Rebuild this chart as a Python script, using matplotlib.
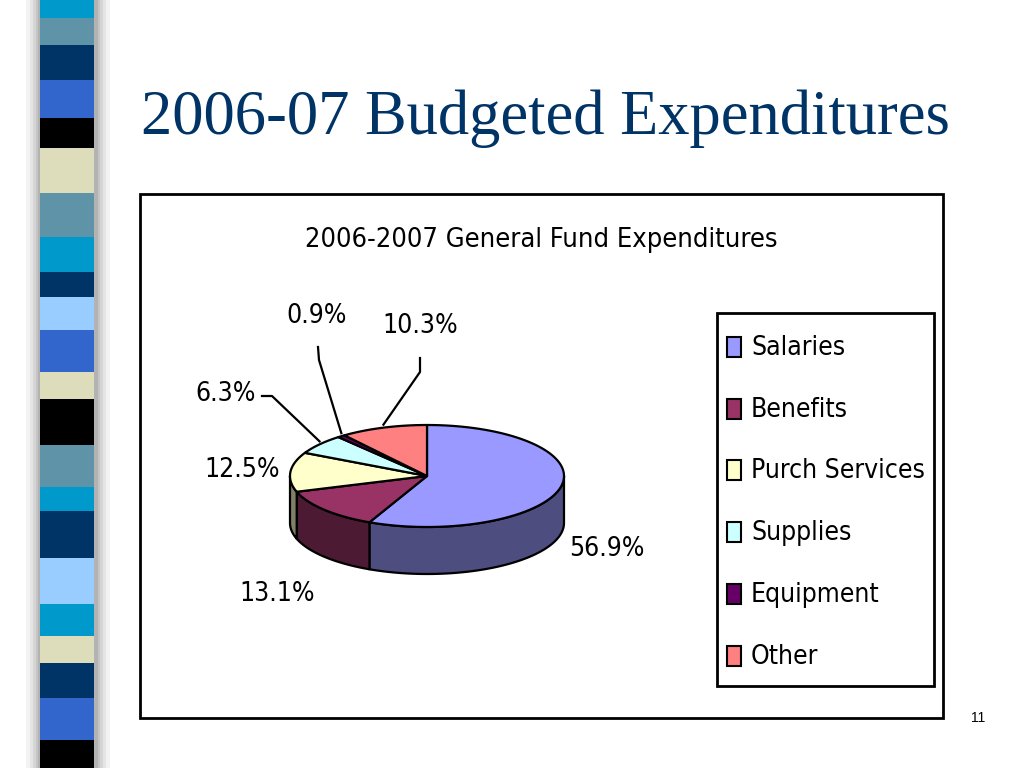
import numpy as np
import matplotlib
matplotlib.use("Agg")
import matplotlib.pyplot as plt
from matplotlib.patches import Polygon, Rectangle
from matplotlib.colors import to_rgb

# ---------------- data ----------------
categories = ["Salaries", "Benefits", "Purch Services", "Supplies", "Equipment", "Other"]
shares = [56.9, 13.1, 12.5, 6.3, 0.9, 10.3]
colors = ["#9999FF", "#993366", "#FFFFCC", "#CCFFFF", "#660066", "#FF8080"]
slide_title = "2006-07 Budgeted Expenditures"
chart_title = "2006-2007 General Fund Expenditures"
page_number = "11"

# decorative stripe (top to bottom): colour, height in px
stripe_colors = ["#0099CC", "#5F93A8", "#003366", "#3366CC", "#000000", "#DDDDBB",
                 "#5F93A8", "#0099CC", "#003366", "#99CCFF", "#3366CC", "#DDDDBB",
                 "#000000", "#5F93A8", "#0099CC", "#003366", "#99CCFF", "#0099CC",
                 "#DDDDBB", "#003366", "#3366CC", "#000000"]
stripe_heights = [18, 27, 35, 38, 30, 45, 44, 35, 25, 33, 42, 27,
                  46, 42, 24, 47, 46, 32, 27, 35, 42, 28]

NARROW = dict(family=["DejaVu Sans"], stretch="condensed")
SERIF = ["Liberation Serif", "DejaVu Serif"]

fig = plt.figure(figsize=(10.24, 7.68), dpi=100)
ax = fig.add_axes([0, 0, 1, 1])
ax.set_xlim(0, 1024)
ax.set_ylim(768, 0)
ax.axis("off")

# ---------------- left stripe with shadow ----------------
for w, al in [(84, 0.08), (76, 0.10), (70, 0.13), (64, 0.16), (60, 0.2)]:
    ax.add_patch(Rectangle((67 - w / 2 + 1, 0), w, 768, facecolor="#707070",
                           edgecolor="none", alpha=al, zorder=1))
y0 = 0
for c, h in zip(stripe_colors, stripe_heights):
    ax.add_patch(Rectangle((40, y0), 54, h, facecolor=c, edgecolor="none", zorder=2))
    y0 += h

# ---------------- titles ----------------
ax.text(545, 119, slide_title, fontsize=45, family=SERIF, color="#003366",
        ha="center", va="center", zorder=5)
ax.text(541, 240, chart_title, fontsize=19.5, **NARROW, color="black",
        ha="center", va="center", zorder=5)
ax.text(978, 718, page_number, fontsize=10, family=["Liberation Sans", "DejaVu Sans"],
        ha="center", va="center")

# chart frame
ax.add_patch(Rectangle((140, 194), 803, 524, facecolor="white", edgecolor="black",
                       linewidth=2, zorder=3))

# ---------------- 3-D pie ----------------
cx, cy, a, b, depth = 427, 476, 137, 51, 47


def pt(theta_deg, dy=0.0):
    t = np.radians(theta_deg)
    return cx + a * np.sin(t), cy - b * np.cos(t) + dy


cum = np.concatenate([[0], np.cumsum(shares)])
angles = cum / cum[-1] * 360.0

# side walls (front half: 90..270 deg)
for i in range(len(shares)):
    s, e = max(angles[i], 90), min(angles[i + 1], 270)
    if e <= s:
        continue
    th = np.linspace(s, e, 80)
    top = [pt(t) for t in th]
    bot = [pt(t, depth) for t in th[::-1]]
    side = tuple(np.array(to_rgb(colors[i])) * 0.5)
    ax.add_patch(Polygon(top + bot, closed=True, facecolor=side, edgecolor="black",
                         linewidth=1.6, joinstyle="round", zorder=6))

# top faces
for i in range(len(shares)):
    th = np.linspace(angles[i], angles[i + 1], 200)
    verts = [(cx, cy)] + [pt(t) for t in th]
    ax.add_patch(Polygon(verts, closed=True, facecolor=colors[i], edgecolor="black",
                         linewidth=1.6, joinstyle="round", zorder=7))

# ---------------- data labels ----------------
label_pos = [(607, 549), (277, 594), (242, 470), (226, 394), (317, 316), (420, 326)]
leader = {3: [(262, 396), (272, 396)], 4: [(318, 347), (319, 360)],
          5: [(420, 358), (420, 372)]}
for i, v in enumerate(shares):
    x, y = label_pos[i]
    ax.text(x, y, f"{v:.1f}%", fontsize=19, **NARROW, ha="center", va="center",
            zorder=8)
    if i in leader:
        mid = (angles[i] + angles[i + 1]) / 2
        ex, ey = pt(mid)
        pts = leader[i] + [(ex, ey - 3)]
        ax.plot([p[0] for p in pts], [p[1] for p in pts], color="black",
                linewidth=1.6, zorder=8)

# ---------------- legend ----------------
ax.add_patch(Rectangle((717, 313), 217, 373, facecolor="white", edgecolor="black",
                       linewidth=2, zorder=4))
for i, name in enumerate(categories):
    yc = 347 + i * 61.7
    ax.add_patch(Rectangle((727, yc - 10), 14, 20, facecolor=colors[i],
                           edgecolor="black", linewidth=1.5, zorder=5))
    ax.text(751, yc + 1, name, fontsize=19, **NARROW, ha="left", va="center",
            zorder=5)

fig.savefig("out.png", dpi=100)
